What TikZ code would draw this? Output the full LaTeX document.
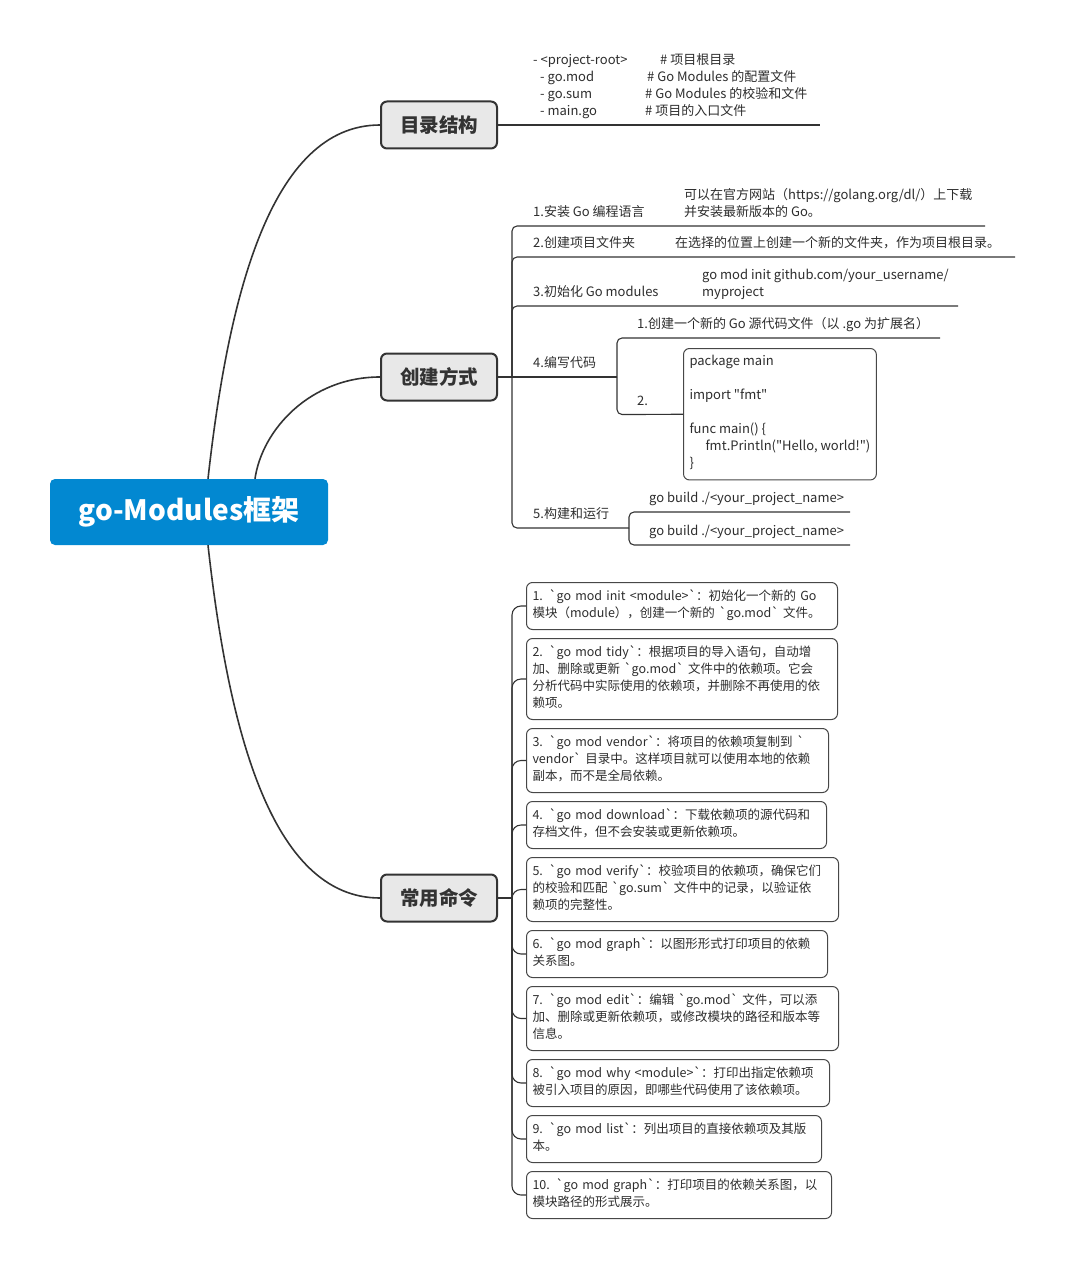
\documentclass[tikz,border=0pt]{standalone}
\usepackage{fontspec}
\newfontfamily\zh{Noto Sans CJK SC}
\definecolor{rootblue}{RGB}{2,136,209}
\definecolor{topicgray}{RGB}{232,232,232}
\definecolor{linegray}{RGB}{51,51,51}
\definecolor{txtgray}{RGB}{45,45,45}

% one line of the directory listing: indent, name, column of the comment, comment
\newcommand\dirline[4]{\rlap{\hspace*{#1pt}#2}\hspace*{#3pt}#4}

\begin{document}
\begin{tikzpicture}[x=1pt, y=-1pt,
    root/.style={rectangle, rounded corners=5pt, fill=rootblue, text=white,
      font=\zh\bfseries\fontsize{28}{32}\selectfont, minimum width=278pt, minimum height=66pt},
    topic/.style={rectangle, rounded corners=6pt, draw=linegray, line width=2pt, fill=topicgray,
      text=linegray, font=\zh\bfseries\fontsize{19.5}{22}\selectfont,
      minimum width=116pt, minimum height=47pt},
    small/.style={text=txtgray, font=\zh\fontsize{13}{17}\selectfont, align=left,
      execute at begin node=\strut, execute at end node=\strut},
    item/.style={small, anchor=south west, inner xsep=0pt, inner ysep=4pt},
    cmd/.style={small, font=\zh\fontsize{12.5}{17}\selectfont, anchor=north west, rectangle,
      rounded corners=6pt, draw=linegray!90, line width=1pt, inner xsep=6pt, inner ysep=6.5pt},
    codebox/.style={small, anchor=north west, rectangle, rounded corners=6pt, draw=linegray!90,
      line width=1pt, inner xsep=6pt, inner ysep=7pt, minimum width=192pt},
    branch/.style={draw=linegray, line width=1.6pt},
    leaf/.style={draw=linegray, line width=1.1pt, rounded corners=5pt}
  ]
  \useasboundingbox (0,0) rectangle (1066,1268);

  % central topic and main topics
  \node[root] (root) at (189,512) {go-Modules框架};
  \node[topic] (mulu) at (439,125) {目录结构};
  \node[topic] (chuangjian) at (439,377) {创建方式};
  \node[topic] (changyong) at (439,898) {常用命令};

  \draw[branch] ([xshift=19pt]root.north) .. controls +(20,-180) and +(-110,0) .. (mulu.west);
  \draw[branch] ([xshift=66pt]root.north) .. controls +(7,-49) and +(-70,0) .. (chuangjian.west);
  \draw[branch] ([xshift=19pt]root.south) .. controls +(20,180) and +(-110,0) .. (changyong.west);

  % 目录结构
  \node[item] (tree) at (533,125) {\dirline{0}{- <project-root>}{127}{\# 项目根目录}\\
    \dirline{7}{- go.mod}{114}{\# Go Modules 的配置文件}\\
    \dirline{7}{- go.sum}{112}{\# Go Modules 的校验和文件}\\
    \dirline{7}{- main.go}{112}{\# 项目的入口文件}};
  \coordinate (e0) at (820,125);
  \draw[branch] (mulu.east) -- (e0);

  % 创建方式
  \coordinate (jc) at (512,377);
  \node[item] (i1) at (533,226) {1.安装 Go 编程语言};
  \node[item] (d1) at (684,226) {可以在官方网站（https://golang.org/dl/）上下载\\并安装最新版本的 Go。};
  \node[item] (i2) at (533,257) {2.创建项目文件夹};
  \node[item] (d2) at (675,257) {在选择的位置上创建一个新的文件夹，作为项目根目录。};
  \node[item] (i3) at (533,306) {3.初始化 Go modules};
  \node[item] (d3) at (702,306) {go mod init github.com/your\_username/\\myproject};
  \node[item] (i4) at (533,377) {4.编写代码};
  \node[item] (s41) at (637,338) {1.创建一个新的 Go 源代码文件（以 .go 为扩展名）};
  \node[item] (s42) at (637,414.5) {2.};
  \node[codebox] (code) at (683,348) {package main\\[17pt]import "fmt"\\[17pt]func main() \{\\
    \hspace*{16pt}fmt.Println("Hello, world!")\\\}};
  \node[item] (i5) at (533,528) {5.构建和运行};
  \node[item] (s51) at (649,512) {go build ./<your\_project\_name>};
  \node[item] (s52) at (649,545) {go build ./<your\_project\_name>};

  \coordinate (e1) at (985,226);
  \coordinate (e2) at (1015,257);
  \coordinate (e3) at (958,306);
  \coordinate (sj4) at (617,377);
  \coordinate (e41) at (940,338);
  \coordinate (sj5) at (629,528);
  \coordinate (e51) at (850,512);
  \coordinate (e52) at (850,545);

  \draw[branch] (chuangjian.east) -- (jc);
  \draw[leaf] (jc) |- (i1.south west) -- (e1);
  \draw[leaf] (jc) |- (i2.south west) -- (e2);
  \draw[leaf] (jc) |- (i3.south west) -- (e3);
  \draw[leaf] (jc) -- (sj4);
  \draw[leaf] (sj4) |- (s41.south west) -- (e41);
  \draw[leaf] (sj4) |- (s42.south west) -- (code.west);
  \draw[leaf] (jc) |- (i5.south west) -- (sj5);
  \draw[leaf] (sj5) |- (s51.south west) -- (e51);
  \draw[leaf] (sj5) |- (s52.south west) -- (e52);

  % 常用命令
  \coordinate (jm) at (512,898);
  \node[cmd, text width=299pt] (c1) at (526,582) {1. `go mod init <module>`：初始化一个新的 Go\\
    模块（module），创建一个新的 `go.mod` 文件。};
  \node[cmd, text width=299pt] (c2) at (526,638) {2. `go mod tidy`：根据项目的导入语句，自动增\\
    加、删除或更新 `go.mod` 文件中的依赖项。它会\\分析代码中实际使用的依赖项，并删除不再使用的依\\赖项。};
  \node[cmd, text width=290pt] (c3) at (526,728) {3. `go mod vendor`：将项目的依赖项复制到 `\\
    vendor` 目录中。这样项目就可以使用本地的依赖\\副本，而不是全局依赖。};
  \node[cmd, text width=288pt] (c4) at (526,801) {4. `go mod download`：下载依赖项的源代码和\\
    存档文件，但不会安装或更新依赖项。};
  \node[cmd, text width=300pt] (c5) at (526,857) {5. `go mod verify`：校验项目的依赖项，确保它们\\
    的校验和匹配 `go.sum` 文件中的记录，以验证依\\赖项的完整性。};
  \node[cmd, text width=289pt] (c6) at (526,930) {6. `go mod graph`：以图形形式打印项目的依赖\\关系图。};
  \node[cmd, text width=300pt] (c7) at (526,986) {7. `go mod edit`：编辑 `go.mod` 文件，可以添\\
    加、删除或更新依赖项，或修改模块的路径和版本等\\信息。};
  \node[cmd, text width=291pt] (c8) at (526,1059) {8. `go mod why <module>`：打印出指定依赖项\\
    被引入项目的原因，即哪些代码使用了该依赖项。};
  \node[cmd, text width=283pt] (c9) at (526,1115) {9. `go mod list`：列出项目的直接依赖项及其版\\本。};
  \node[cmd, text width=293pt] (c10) at (526,1171) {10. `go mod graph`：打印项目的依赖关系图，以\\模块路径的形式展示。};

  \draw[branch] (changyong.east) -- (jm);
  \foreach \i in {1,...,10}
    \draw[leaf, rounded corners=9pt] (jm) |- (c\i.west);
\end{tikzpicture}
\end{document}
